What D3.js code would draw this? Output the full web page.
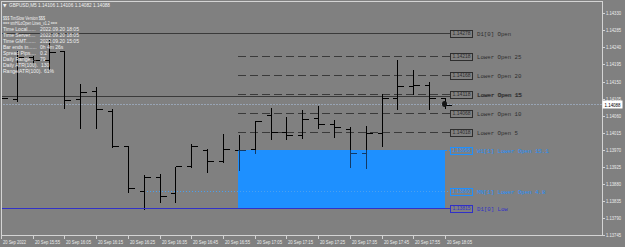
<!DOCTYPE html>
<html><head><meta charset="utf-8">
<script src="https://cdn.jsdelivr.net/npm/d3@7/dist/d3.min.js"></script>
<style>html,body{margin:0;padding:0;background:#808080;overflow:hidden}svg{display:block}</style>
</head><body><svg id="c" width="625" height="247"></svg>
<script>
// ---------------- data ----------------
const barTimes = ["15:45","15:50","15:55","16:00","16:05","16:10","16:15","16:20","16:25","16:30","16:35","16:40","16:45","16:50","16:55","17:00","17:05","17:10","17:15","17:20","17:25","17:30","17:35","17:40","17:45","17:50","17:55","18:00","18:05"];
const opens  = [1.14106,1.14104,1.14215,1.14207,1.14231,1.14103,1.14126,1.14073,1.13979,1.13861,1.13897,1.13857,1.13928,1.13969,1.13941,1.13970,1.13971,1.14062,1.14018,1.14008,1.14055,1.14038,1.14026,1.13961,1.14015,1.14106,1.14138,1.14141,1.14106];
const highs  = [1.14114,1.14233,1.14220,1.14262,1.14231,1.14146,1.14138,1.14080,1.13983,1.13906,1.13909,1.13928,1.13989,1.13975,1.14013,1.14012,1.14049,1.14084,1.14059,1.14077,1.14088,1.14050,1.14033,1.14035,1.14119,1.14209,1.14182,1.14151,1.14106];
const lows   = [1.14101,1.14101,1.14202,1.14186,1.14083,1.14030,1.14030,1.13980,1.13861,1.13815,1.13835,1.13835,1.13927,1.13915,1.13940,1.13918,1.13965,1.14000,1.14000,1.14003,1.14029,1.14007,1.13928,1.13924,1.13983,1.14081,1.14119,1.14079,1.14082];
const closes = [1.14106,1.14215,1.14207,1.14228,1.14101,1.14122,1.14077,1.13981,1.13869,1.13899,1.13848,1.13927,1.13980,1.13941,1.13971,1.13970,1.14047,1.14018,1.14008,1.14052,1.14038,1.14029,1.13961,1.14013,1.14106,1.14138,1.14141,1.14107,1.14088];

const xTickIdx   = [0,2,4,6,8,10,12,14,16,18,20,22,24,26,28];
const xTickLabels= ["20 Sep 2022","20 Sep 15:55","20 Sep 16:05","20 Sep 16:15","20 Sep 16:25","20 Sep 16:35","20 Sep 16:45","20 Sep 16:55","20 Sep 17:05","20 Sep 17:15","20 Sep 17:25","20 Sep 17:35","20 Sep 17:45","20 Sep 17:55","20 Sep 18:05"];
const yTicks = [1.14330,1.14285,1.14240,1.14195,1.14150,1.14105,1.14060,1.14015,1.13970,1.13925,1.13880,1.13835,1.13790,1.13745];

const levelNames  = ["D1[0] Open","Lower Open 25","Lower Open 20","Lower Open 15","Lower Open 10","Lower Open 5","W1[1] Lower Open 15.1","MN[1] Lower Open 4.8","D1[0] Low"];
const levelPrices = [1.14278,1.14218,1.14168,1.14118,1.14068,1.14018,1.13968,1.13860,1.13815];
const extraLinePrice = 1.14113;
const bidPrice = 1.14088;

const titleText = "GBPUSD,M5  1.14106 1.14106 1.14082 1.14088";
const infoLabels = ["$$$ TimSlow Version $$$","=== smHiLoOpen Lines_v1.2 ===","Time Local......","Time Server....","Time GMT.......","Bar ends in......","Spread Pips....","Daily Range....","Daily ATR(100).","Range/ATR(100)."];
const infoValues = ["","","2022.09.20 18:05","2022.09.20 18:05","2022.09.20 15:05","0h 4m 26s","0.2","79","130","61%"];

// ---------------- drawing ----------------
const W=625,H=247;
const svg=d3.select("#c");
svg.append("rect").attr("width",W).attr("height",H).attr("fill","#808080");

const x=d3.scaleLinear().domain([0,28]).range([1,445]);
const y=d3.scaleLinear().domain([1.13745,1.14330]).range([235,13.3]);
const px=v=>Math.round(x(v))+0.5;
const py=v=>Math.round(y(v))+0.5;

const plot=svg.append("g");
svg.append("clipPath").attr("id","pc").append("rect").attr("x",1).attr("y",1).attr("width",601).attr("height",234);
plot.attr("clip-path","url(#pc)");

// blue rectangle (W1 lower open -> D1 low), from bar 15 to bar 28
const rx0=Math.round(x(15))-1, rx1=Math.round(x(28));
const ry0=Math.round(y(levelPrices[6])), ry1=Math.round(y(levelPrices[8]));
plot.append("rect").attr("x",rx0).attr("y",ry0).attr("width",rx1-rx0).attr("height",ry1-ry0).attr("fill","#1e90ff");
svg.append("clipPath").attr("id","rc").append("rect").attr("x",rx0).attr("y",ry0).attr("width",rx1-rx0).attr("height",ry1-ry0);

// bid line
plot.append("line").attr("x1",0).attr("x2",602).attr("y1",py(bidPrice)-1).attr("y2",py(bidPrice)-1)
  .attr("stroke","#98a4b4").attr("stroke-width",1).attr("stroke-dasharray","2,1");

const lineEnd=450;
// solid lines
[[levelPrices[0],"#3a3a3a"],[extraLinePrice,"#3a3a3a"]].forEach(([p,c])=>{
  plot.append("line").attr("x1",0).attr("x2",lineEnd).attr("y1",py(p)).attr("y2",py(p)).attr("stroke",c).attr("stroke-width",1).attr("shape-rendering","crispEdges");
});
// dashed lower-open lines
[1,2,3,4,5].forEach(i=>{
  plot.append("line").attr("x1",Math.round(x(15))-1).attr("x2",lineEnd).attr("y1",py(levelPrices[i])).attr("y2",py(levelPrices[i]))
   .attr("stroke","#3a3a3a").attr("stroke-dasharray","8,4").attr("shape-rendering","crispEdges");
});
// MN dotted line
plot.append("line").attr("x1",Math.round(x(9))).attr("x2",lineEnd).attr("y1",py(levelPrices[7])).attr("y2",py(levelPrices[7]))
  .attr("stroke","#4aa0f0").attr("stroke-dasharray","1,2").attr("shape-rendering","crispEdges");
// W1 line right part
plot.append("line").attr("x1",rx1).attr("x2",lineEnd).attr("y1",py(levelPrices[6])).attr("y2",py(levelPrices[6]))
  .attr("stroke","#1e90ff").attr("stroke-dasharray","2,2").attr("shape-rendering","crispEdges");

// bars
function drawBars(g,color){
  barTimes.forEach((t,i)=>{
    const cx=px(i);
    g.append("line").attr("x1",cx).attr("x2",cx).attr("y1",py(highs[i])).attr("y2",py(lows[i])+1).attr("stroke",color);
    g.append("line").attr("x1",cx-5).attr("x2",cx).attr("y1",py(opens[i])).attr("y2",py(opens[i])).attr("stroke",color);
    g.append("line").attr("x1",cx).attr("x2",cx+6).attr("y1",py(closes[i])).attr("y2",py(closes[i])).attr("stroke",color);
  });
}
const gb=plot.append("g").attr("shape-rendering","crispEdges");
drawBars(gb,"#000");
const gb2=plot.append("g").attr("shape-rendering","crispEdges").attr("clip-path","url(#rc)");
drawBars(gb2,"#123a66");

// D1 low line
plot.append("line").attr("x1",0).attr("x2",lineEnd).attr("y1",py(levelPrices[8])).attr("y2",py(levelPrices[8]))
  .attr("stroke","#3232c8").attr("stroke-width",1).attr("shape-rendering","crispEdges");

// current bar marker
plot.append("ellipse").attr("cx",x(28)-0.5).attr("cy",y(bidPrice)-1).attr("rx",2.5).attr("ry",3).attr("fill","#151515");

// level labels
const labelColors=["#2e2e2e","#2e2e2e","#2e2e2e","#2e2e2e","#2e2e2e","#2e2e2e","#1e90ff","#1e90ff","#3030c8"];
levelNames.forEach((n,i)=>{
  const yy=py(levelPrices[i]);
  const c=labelColors[i];
  svg.append("rect").attr("x",450.5).attr("y",yy-3.5).attr("width",22).attr("height",7)
    .attr("fill","#808080").attr("stroke",c).attr("stroke-width",1).attr("shape-rendering","crispEdges");
  svg.append("text").attr("x",461.5).attr("y",yy+1.8).attr("text-anchor","middle")
    .attr("font-family","Liberation Sans").attr("font-size",5).attr("fill",c)
    .attr("textLength",18).attr("lengthAdjust","spacingAndGlyphs").text(d3.format(".5f")(levelPrices[i]));
  const len=n.length*3.42;
  svg.append("text").attr("x",477).attr("y",yy+2).attr("font-family","Liberation Mono").attr("font-size",6).attr("fill",c)
    .attr("textLength",len).attr("lengthAdjust","spacingAndGlyphs").text(n);
  if(i===3){
    svg.append("text").attr("x",477.6).attr("y",yy+2.6).attr("font-family","Liberation Mono").attr("font-size",6).attr("fill",c)
      .attr("textLength",len).attr("lengthAdjust","spacingAndGlyphs").text(n);
  }
});

// frame
svg.append("rect").attr("x",1.5).attr("y",1.5).attr("width",601).attr("height",234)
  .attr("fill","none").attr("stroke","#d4d4d4").attr("stroke-width",1).attr("shape-rendering","crispEdges");

// y axis
yTicks.forEach(v=>{
  const yy=Math.round(y(v))+0.5;
  svg.append("line").attr("x1",602).attr("x2",605).attr("y1",yy).attr("y2",yy).attr("stroke","#d4d4d4").attr("shape-rendering","crispEdges");
  svg.append("text").attr("x",606).attr("y",yy+1.7).attr("font-family","Liberation Sans").attr("font-size",5).attr("fill","#ececec")
    .attr("textLength",15).attr("lengthAdjust","spacingAndGlyphs").text(d3.format(".5f")(v));
});
// bid label
const by=Math.round(y(bidPrice));
svg.append("rect").attr("x",603).attr("y",by-4).attr("width",19).attr("height",7).attr("fill","#fff").attr("stroke","#fff");
svg.append("text").attr("x",604.5).attr("y",by+1.8).attr("font-family","Liberation Sans").attr("font-size",5).attr("fill","#000")
  .attr("textLength",16).attr("lengthAdjust","spacingAndGlyphs").text(d3.format(".5f")(bidPrice));

// x axis
xTickIdx.forEach((idx,k)=>{
  const xx=px(idx);
  svg.append("line").attr("x1",xx).attr("x2",xx).attr("y1",235).attr("y2",239).attr("stroke","#d4d4d4").attr("shape-rendering","crispEdges");
  svg.append("text").attr("x",xx+1.5).attr("y",243.5).attr("font-family","Liberation Sans").attr("font-size",5).attr("fill","#ececec")
    .attr("textLength",k===0?23:25).attr("lengthAdjust","spacingAndGlyphs").text(xTickLabels[k]);
});

// title
svg.append("text").attr("x",3).attr("y",7).attr("font-family","DejaVu Sans").attr("font-size",4.5).attr("fill","#f0f0f0").text("▼");
svg.append("text").attr("x",9).attr("y",7).attr("font-family","Liberation Sans").attr("font-size",5.5).attr("fill","#f0f0f0")
  .attr("textLength",101).attr("lengthAdjust","spacingAndGlyphs").text(titleText);

// info panel
const valueX=[0,0,40,40,40,40,40,40,41,44];
infoLabels.forEach((l,i)=>{
  const yy=19.5+i*5.9;
  const t=svg.append("text").attr("x",3).attr("y",yy).attr("font-family","Liberation Sans").attr("font-size",5).attr("fill","#f0f0f0").text(l);
  if(i<2) t.attr("textLength",i===0?42:54).attr("lengthAdjust","spacingAndGlyphs");
  if(infoValues[i]){
    svg.append("text").attr("x",valueX[i]).attr("y",yy).attr("font-family","Liberation Sans").attr("font-size",5).attr("fill","#f0f0f0")
      .text(infoValues[i]);
  }
});
</script></body></html>
